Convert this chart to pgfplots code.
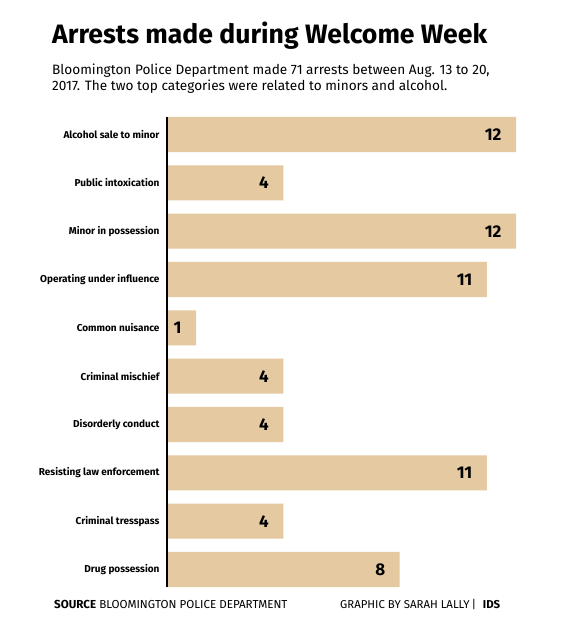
\documentclass[border=0pt]{standalone}
\usepackage{fontspec}
\setmainfont{Fira Sans}
\usepackage{pgfplots}
\pgfplotsset{compat=1.18}
\definecolor{barc}{RGB}{229,201,160}
\begin{document}
\begin{tikzpicture}
\path[use as bounding box,fill=white] (0pt,0pt) rectangle (569pt,-629pt);
\node[anchor=base west,inner sep=0,font=\fontsize{26.6}{27}\selectfont\bfseries] at (52pt,-43pt) {Arrests made during Welcome Week};
\node[anchor=base west,inner sep=0,font=\fontsize{13.6}{16}\selectfont] at (52pt,-74pt) {Bloomington Police Department made 71 arrests between Aug. 13 to 20,};
\node[anchor=base west,inner sep=0,font=\fontsize{13.6}{16}\selectfont] at (52pt,-90pt) {2017. The two top categories were related to minors and alcohol.};
\begin{axis}[
  at={(167pt,-587pt)}, anchor=south west,
  scale only axis, width=349pt, height=470pt,
  xbar, bar width=0.725, bar shift=0pt,
  xmin=0, xmax=12,
  ymin=-0.362, ymax=9.362,
  y dir=reverse,
  axis line style={draw=none},
  hide x axis,
  ytick={0,...,9},
  yticklabels={Alcohol sale to minor,Public intoxication,Minor in possession,Operating under influence,Common nuisance,Criminal mischief,Disorderly conduct,Resisting law enforcement,Criminal tresspass,Drug possession},
  yticklabel style={font=\fontsize{10}{10}\selectfont\bfseries, xshift=-4pt},
  major tick length=0pt,
  nodes near coords,
  point meta=explicit symbolic,
  every node near coord/.append style={anchor=east, xshift=-11pt, font=\fontsize{17}{17}\selectfont\bfseries, text=black},
  clip=false,
]
\addplot[fill=barc, draw=none] table[meta=v] {
x y v
12 0 12
4 1 4
12 2 12
11 3 11
1 4 1
4 5 4
4 6 4
11 7 11
4 8 4
8 9 8
};
\draw[black, line width=1.2pt] (axis cs:0,-0.362) -- (axis cs:0,9.362);
\end{axis}
\node[anchor=base west,inner sep=0,font=\fontsize{11.6}{11.6}\selectfont] at (54pt,-608pt) {\textbf{SOURCE} BLOOMINGTON POLICE DEPARTMENT};
\node[anchor=base west,inner sep=0,font=\fontsize{11.4}{11.4}\selectfont] at (340pt,-608pt) {GRAPHIC BY SARAH LALLY\,|\,\, \textbf{IDS}};
\end{tikzpicture}
\end{document}
